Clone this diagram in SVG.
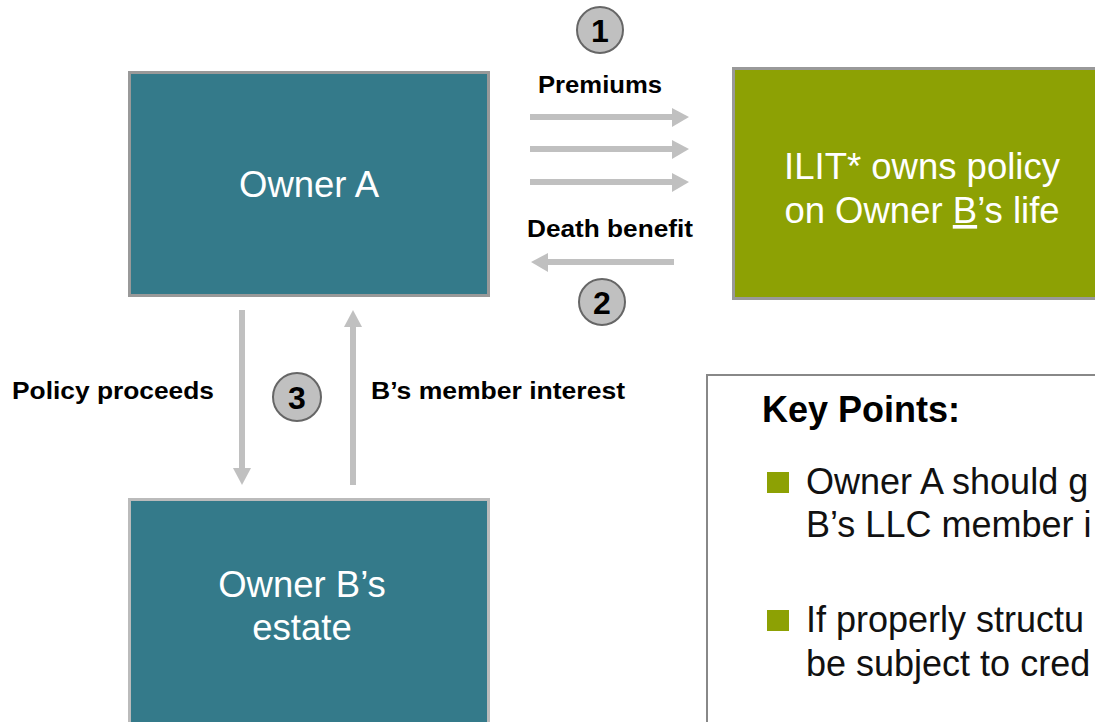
<svg xmlns="http://www.w3.org/2000/svg" width="1095" height="722" viewBox="0 0 1095 722">
<defs>
<style>
.box{stroke:#999;stroke-width:3}
.teal{fill:#347A8A}
.olive{fill:#8DA104}
.wt{font-family:"Liberation Sans",Arial,sans-serif;fill:#fff;font-size:36.5px;text-anchor:middle}
.lbl{font-family:"Liberation Sans",Arial,sans-serif;font-weight:bold;font-size:23px;fill:#000}
.num{font-family:"Liberation Sans",Arial,sans-serif;font-weight:bold;font-size:32px;fill:#000;text-anchor:middle}
.circ{fill:#C0C0C0;stroke:#666;stroke-width:2}
.shaft{stroke:#C0C0C0;stroke-width:6;fill:none}
.head{fill:#C0C0C0}
.kp{font-family:"Liberation Sans",Arial,sans-serif;font-size:36px;fill:#111}
</style>
</defs>
<rect width="1095" height="722" fill="#fff"/>
<g id="connectors">
<line class="shaft" x1="530" y1="117" x2="673" y2="117"/><polygon class="head" points="672,108 689,117 672,127"/>
<line class="shaft" x1="530" y1="149" x2="673" y2="149"/><polygon class="head" points="672,140 689,149 672,159"/>
<line class="shaft" x1="530" y1="182" x2="673" y2="182"/><polygon class="head" points="672,173 689,182 672,192"/>
<line class="shaft" x1="547" y1="262" x2="674" y2="262"/><polygon class="head" points="548,253 531,262 548,272"/>
<line class="shaft" x1="242" y1="310" x2="242" y2="469"/><polygon class="head" points="233,468 242,485 251,468"/>
<line class="shaft" x1="353" y1="326" x2="353" y2="485"/><polygon class="head" points="344,327 353,310 362,327"/>
<text class="lbl" x="538" y="93" textLength="124" lengthAdjust="spacingAndGlyphs">Premiums</text>
<text class="lbl" x="527" y="237" textLength="166" lengthAdjust="spacingAndGlyphs">Death benefit</text>
<text class="lbl" x="12" y="399" textLength="202" lengthAdjust="spacingAndGlyphs">Policy proceeds</text>
<text class="lbl" x="371" y="399" textLength="254" lengthAdjust="spacingAndGlyphs">B’s member interest</text>
</g>
<g id="step1"><circle class="circ" cx="600" cy="30" r="23"/><text class="num" x="600" y="42">1</text></g>
<g id="step2"><circle class="circ" cx="602" cy="302" r="23"/><text class="num" x="602" y="314">2</text></g>
<g id="step3"><circle class="circ" cx="297" cy="397" r="24"/><text class="num" x="297" y="409">3</text></g>
<g id="ownerA">
<rect class="box teal" x="129.5" y="72.5" width="359" height="223"/>
<text class="wt" x="309" y="197">Owner A</text>
</g>
<g id="ilit">
<rect class="box olive" x="733.5" y="68.5" width="380" height="230"/>
<text class="wt" x="922" y="179">ILIT* owns policy</text>
<text class="wt" x="922" y="223">on Owner <tspan text-decoration="underline">B</tspan>’s life</text>
</g>
<g id="ownerB">
<rect class="teal" x="129.5" y="499.5" width="359" height="240" style="stroke:#bbb;stroke-width:3"/>
<text class="wt" x="302" y="597">Owner B’s</text>
<text class="wt" x="302" y="640">estate</text>
</g>
<g id="keypoints">
<rect x="707" y="375" width="420" height="380" fill="#fff" stroke="#888" stroke-width="2"/>
<text class="kp" x="762" y="422" font-weight="bold" style="fill:#000">Key Points:</text>
<rect x="767" y="472" width="22" height="21" fill="#8DA104"/>
<text class="kp" x="806" y="494">Owner A should g</text>
<text class="kp" x="806" y="537">B’s LLC member i</text>
<rect x="767" y="610" width="22" height="21" fill="#8DA104"/>
<text class="kp" x="806" y="632">If properly structu</text>
<text class="kp" x="806" y="676">be subject to cred</text>
</g>
</svg>
